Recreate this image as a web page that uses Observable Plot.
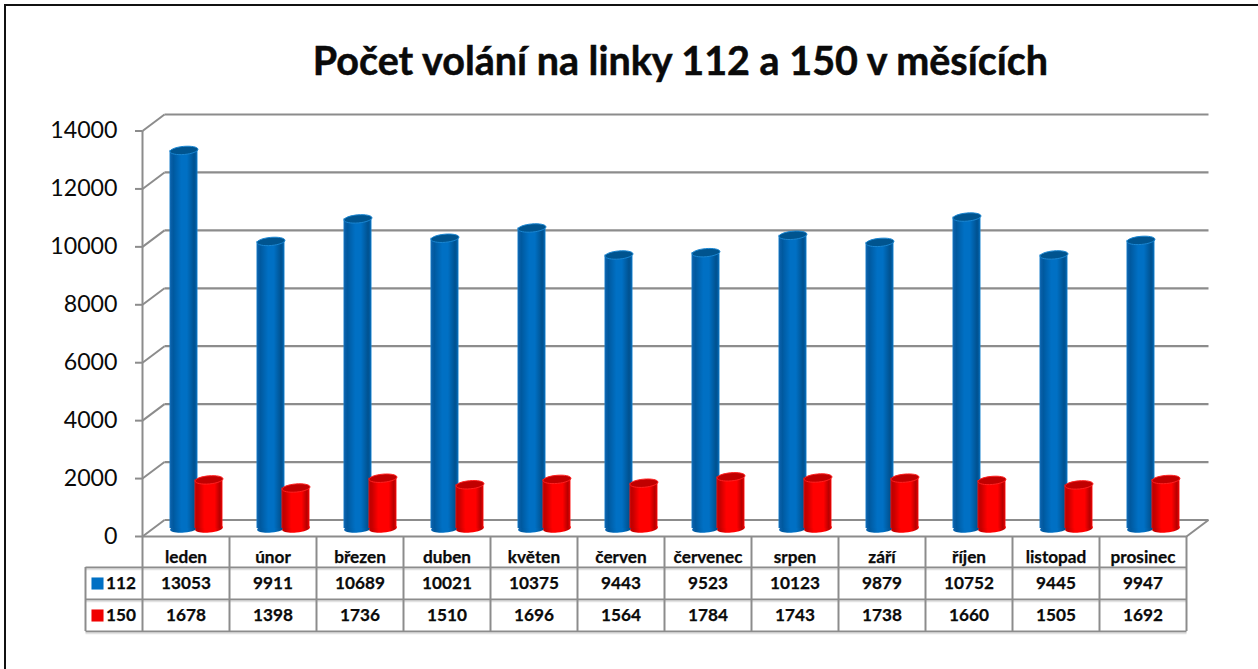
<!DOCTYPE html>
<html lang="cs">
<head>
<meta charset="utf-8">
<title>Počet volání na linky 112 a 150 v měsících</title>
<script src="https://cdn.jsdelivr.net/npm/d3@7"></script>
<script src="https://cdn.jsdelivr.net/npm/@observablehq/plot@0.6"></script>
<style>
  html, body { margin: 0; padding: 0; background: #fff; overflow: hidden; }
  #page { position: relative; width: 1258px; height: 669px; overflow: hidden; }
  #frame { position: absolute; left: 4px; top: 4px; width: 1300px; height: 700px; border: 2px solid #111; box-sizing: border-box; }
  #chart { position: absolute; left: 0; top: 0; }
  h1 { position: absolute; left: 102px; width: 1157px; top: 36px; margin: 0; text-align: center;
       font: bold 39.5px/48px Lato, sans-serif; color: #0a0a0a; -webkit-text-stroke: 0.5px #0a0a0a; }
</style>
</head>
<body>
<div id="page">
  <div id="frame"></div>
  <div id="chart"></div>
  <h1>Počet volání na linky 112 a 150 v měsících</h1>
</div>
<script>
const months = ["leden","únor","březen","duben","květen","červen","červenec","srpen","září","říjen","listopad","prosinec"];
const calls112 = [13053,9911,10689,10021,10375,9443,9523,10123,9879,10752,9445,9947];
const calls150 = [1678,1398,1736,1510,1696,1564,1784,1743,1738,1660,1505,1692];
const yTicks = [0,2000,4000,6000,8000,10000,12000,14000];

// Chart geometry expressed in scale units
const COL = 87, UNIT = 405.5 / 14000;
const depthX = 22 / COL, depthY = 16.5 / UNIT;
const px = v => v / COL;                 // px -> x units
const py = v => (536 - v) / UNIT;        // page y -> y units
const LEG = px(-57);
const rows = [py(536), py(567), py(599), py(631)];
const rowText = [py(557), py(583), py(615)];
const GRID = "#8c8c8c";
const LIFT = -8;
const idx = months.map((_, i) => i);

const ellipse = {
  draw(c, size) {
    const r = Math.sqrt(size / Math.PI), ry = r * 0.29, t = -5 * Math.PI / 180, k = 0.5523;
    const P = (a, b) => [a * Math.cos(t) - b * Math.sin(t), a * Math.sin(t) + b * Math.cos(t)];
    const pts = [[r,0],[r,k*ry],[k*r,ry],[0,ry],[-k*r,ry],[-r,k*ry],[-r,0],[-r,-k*ry],[-k*r,-ry],[0,-ry],[k*r,-ry],[r,-k*ry],[r,0]].map(p => P(...p));
    c.moveTo(...pts[0]);
    for (let i = 1; i < pts.length; i += 3) c.bezierCurveTo(...pts[i], ...pts[i+1], ...pts[i+2]);
    c.closePath();
  }
};

function gradient(id, stops) {
  return `<linearGradient id="${id}" x1="0" x2="1" y1="0" y2="0">` +
    stops.map(([o, c]) => `<stop offset="${o}" stop-color="${c}"/>`).join("") + `</linearGradient>`;
}
const defs = () => {
  const g = d3.create("svg:defs");
  g.html(
    gradient("gBlue", [[0,"#1a80cc"],[0.05,"#0a5fa8"],[0.14,"#00599f"],[0.42,"#0070c4"],[0.62,"#0070c4"],[0.88,"#00518f"],[0.95,"#005ea6"],[1,"#1a86d2"]]) +
    gradient("gRed", [[0,"#e81818"],[0.05,"#c00000"],[0.13,"#c80000"],[0.35,"#ff0000"],[0.72,"#ff0000"],[0.9,"#b80000"],[0.96,"#d80000"],[1,"#ff2020"]])
  );
  return g.node();
};

const series = (vals, left, fillId, capFill, rim) => {
  const d = idx.map(i => ({i, v: vals[i]}));
  const cx = i => i + px(left + 14);
  return [
    Plot.dot(d, {x: a => cx(a.i), y: () => 0, dy: LIFT, r: 14, symbol: ellipse, fill: `url(#${fillId})`}),
    Plot.rectY(d, {x1: a => a.i + px(left), x2: a => a.i + px(left + 28), y1: () => 0, y2: "v", dy: LIFT, fill: `url(#${fillId})`}),
    Plot.dot(d, {x: a => cx(a.i), y: "v", dy: LIFT, r: 14, symbol: ellipse, fill: capFill, stroke: rim, strokeWidth: 1})
  ];
};

const cellTexts = [
  ...months.map((m, i) => ({x: i + 0.5, y: rowText[0], t: m})),
  ...calls112.map((v, i) => ({x: i + 0.5, y: rowText[1], t: String(v)})),
  ...calls150.map((v, i) => ({x: i + 0.5, y: rowText[2], t: String(v)}))
];

const plot = Plot.plot({
  width: 1258, height: 669,
  marginLeft: 142, marginRight: 72, marginTop: 130.5, marginBottom: 133,
  style: {fontFamily: "Lato, sans-serif", background: "transparent", overflow: "visible"},
  x: {domain: [0, 12], range: [142, 1186], axis: null},
  y: {domain: [0, 14000], range: [536, 130.5], axis: null},
  marks: [
    defs,
    // back wall and side wall
    Plot.link(yTicks, {x1: depthX, x2: 12 + depthX, y1: d => d + depthY, y2: d => d + depthY, stroke: GRID, strokeWidth: 2.2}),
    Plot.link(yTicks, {x1: 0, x2: depthX, y1: d => d, y2: d => d + depthY, stroke: GRID, strokeWidth: 2}),
    Plot.link([0], {x1: 12, x2: 12 + depthX, y1: 0, y2: depthY, stroke: GRID, strokeWidth: 2}),
    Plot.ruleX([0], {y1: 0, y2: 14000, stroke: GRID, strokeWidth: 2}),
    Plot.axisY({ticks: yTicks, tickFormat: d => String(d), label: null, tickSize: 7, tickPadding: 18,
      stroke: GRID, strokeWidth: 2, fill: "#0a0a0a", fontSize: 23.2}),
    // cylinders
    ...series(calls112, 27.5, "gBlue", "#00548f", "#1a86d2"),
    ...series(calls150, 52.5, "gRed", "#c00000", "#ff2020"),
    // data table
    Plot.link(rows, {x1: d => d === rows[0] ? 0 : LEG, x2: 12, y1: d => d, y2: d => d, stroke: GRID, strokeWidth: 2}),
    Plot.link(rows.slice(1), {x1: LEG, x2: 12, y1: d => d, y2: d => d, stroke: "#e2e2e2", strokeWidth: 1.5, dy: 2}),
    Plot.ruleX(d3.range(13), {y1: rows[0], y2: rows[3], stroke: GRID, strokeWidth: 2}),
    Plot.ruleX([LEG], {y1: rows[1], y2: rows[3], stroke: GRID, strokeWidth: 2}),
    Plot.text(cellTexts, {x: "x", y: "y", text: "t", fontWeight: "bold", fontSize: 17.2, fill: "#0a0a0a", stroke: "#0a0a0a", strokeWidth: 0.25}),
    // legend keys
    Plot.dot([{y: rowText[1], c: "#0070c4"}, {y: rowText[2], c: "#f00000"}], {x: LEG + px(12), y: "y", r: 6.8, symbol: "square", fill: "c"}),
    Plot.text([{y: rowText[1] + py(535.5) , t: "112"}, {y: rowText[2] + py(535.5), t: "150"}], {x: LEG + px(20.5), y: "y", text: "t", textAnchor: "start", fontWeight: "bold", fontSize: 17.2, fill: "#0a0a0a", stroke: "#0a0a0a", strokeWidth: 0.25})
  ]
});
document.getElementById("chart").append(plot);
</script>
</body>
</html>
